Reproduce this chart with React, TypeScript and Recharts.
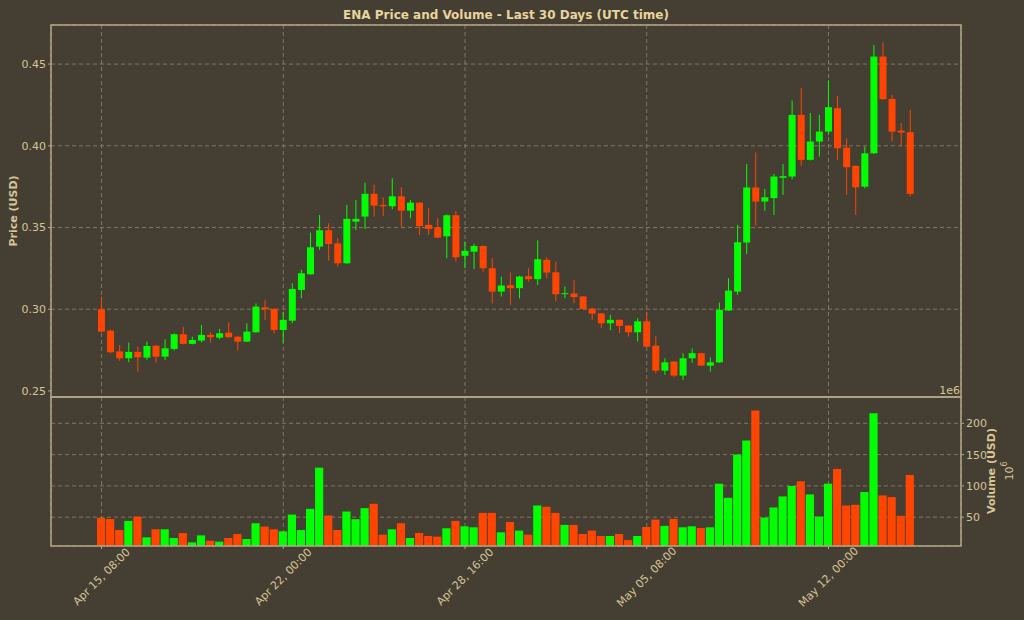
import { ComposedChart, Bar, XAxis, YAxis, CartesianGrid, Cell } from "recharts";

// 8h candles, Apr 15 08:00 -> May 15 00:00 (UTC)
const opens = [
  0.3, 0.2869, 0.2742, 0.27, 0.2739, 0.2704, 0.2777, 0.271, 0.2757, 0.2847,
  0.2788, 0.2808, 0.2843, 0.2826, 0.2857, 0.2832, 0.2802, 0.2859, 0.3012, 0.3002,
  0.2873, 0.293, 0.3118, 0.3214, 0.3383, 0.3483, 0.3403, 0.3281, 0.3536, 0.3567,
  0.3706, 0.3638, 0.363, 0.3691, 0.3603, 0.3652, 0.3516, 0.35, 0.3446, 0.3575,
  0.3327, 0.3352, 0.3387, 0.3251, 0.3108, 0.3147, 0.3129, 0.3202, 0.3184, 0.3302,
  0.3226, 0.3092, 0.3096, 0.3078, 0.3004, 0.2975, 0.2914, 0.2935, 0.29, 0.2859,
  0.2926, 0.2777, 0.2624, 0.268, 0.2594, 0.27, 0.2731, 0.2655, 0.2675, 0.2992,
  0.3108, 0.3408, 0.3745, 0.3659, 0.368, 0.3804, 0.3812, 0.4189, 0.3914, 0.4026,
  0.4087, 0.423, 0.3989, 0.3877, 0.375, 0.3954, 0.4546, 0.4287, 0.4093, 0.4083,
];
const highs = [
  0.3077, 0.2875, 0.2782, 0.2796, 0.2771, 0.2802, 0.278, 0.2816, 0.2853, 0.2893,
  0.2832, 0.2904, 0.2859, 0.2879, 0.292, 0.2835, 0.2914, 0.3036, 0.3057, 0.3005,
  0.2985, 0.3159, 0.3241, 0.3469, 0.3577, 0.3526, 0.3434, 0.3638, 0.3669, 0.3775,
  0.3761, 0.3685, 0.3801, 0.3747, 0.3669, 0.3655, 0.3618, 0.3557, 0.358, 0.36,
  0.3414, 0.34, 0.339, 0.3312, 0.32, 0.3224, 0.3205, 0.3251, 0.3421, 0.3318,
  0.3291, 0.3139, 0.3179, 0.308, 0.3006, 0.2977, 0.2965, 0.2938, 0.2903, 0.2945,
  0.2985, 0.2837, 0.27, 0.2683, 0.2731, 0.2761, 0.2734, 0.2706, 0.3041, 0.319,
  0.3516, 0.3889, 0.3959, 0.3736, 0.3828, 0.3889, 0.4277, 0.4352, 0.42, 0.4189,
  0.44, 0.4305, 0.4046, 0.388, 0.3995, 0.4618, 0.4633, 0.4312, 0.4138, 0.422,
];
const lows = [
  0.286, 0.273, 0.2684, 0.2676, 0.2618, 0.269, 0.2673, 0.269, 0.2747, 0.2785,
  0.2785, 0.2798, 0.2796, 0.2816, 0.2826, 0.2747, 0.28, 0.2856, 0.2935, 0.2853,
  0.2794, 0.2915, 0.3068, 0.321, 0.3363, 0.3297, 0.3261, 0.3278, 0.3485, 0.3489,
  0.3567, 0.3571, 0.3612, 0.3506, 0.3557, 0.3455, 0.3455, 0.3435, 0.3312, 0.3291,
  0.3251, 0.3245, 0.323, 0.3036, 0.3078, 0.3026, 0.3067, 0.3169, 0.3148, 0.319,
  0.3047, 0.3067, 0.3036, 0.2996, 0.2935, 0.2884, 0.2873, 0.2853, 0.2832, 0.2802,
  0.2768, 0.2608, 0.2598, 0.2584, 0.2567, 0.2673, 0.2652, 0.2618, 0.2672, 0.299,
  0.3088, 0.3337, 0.351, 0.3603, 0.3577, 0.37, 0.3795, 0.3877, 0.391, 0.3934,
  0.4067, 0.3914, 0.37, 0.3577, 0.374, 0.395, 0.4283, 0.4026, 0.3995, 0.369,
];
const closes = [
  0.2863, 0.2737, 0.27, 0.2739, 0.2706, 0.2775, 0.271, 0.2761, 0.2847, 0.2788,
  0.2812, 0.2843, 0.2829, 0.2853, 0.2829, 0.2802, 0.2863, 0.3016, 0.3, 0.2873,
  0.2935, 0.3124, 0.322, 0.3379, 0.3483, 0.3399, 0.3281, 0.3553, 0.3553, 0.3706,
  0.3634, 0.363, 0.3691, 0.3603, 0.3652, 0.3509, 0.3491, 0.3438, 0.3575, 0.3318,
  0.3357, 0.3387, 0.3251, 0.3108, 0.3145, 0.3129, 0.32, 0.3184, 0.3306, 0.3224,
  0.3092, 0.3098, 0.3075, 0.3002, 0.2973, 0.2914, 0.2935, 0.2898, 0.2859, 0.2926,
  0.2771, 0.2624, 0.2675, 0.2594, 0.27, 0.2731, 0.2655, 0.2675, 0.2996, 0.3114,
  0.341, 0.3745, 0.3659, 0.3685, 0.3812, 0.3814, 0.4189, 0.3914, 0.4026, 0.4087,
  0.4236, 0.3985, 0.3869, 0.3746, 0.3954, 0.4546, 0.4285, 0.4087, 0.4081, 0.3706,
];
// volume in millions of USD
const volumes = [
  48.9, 47.3, 29.6, 44.1, 51, 17.9, 30.7, 30.7, 16.8, 24.8,
  9.8, 21, 12.5, 10.9, 16.8, 23.2, 15.2, 40.3, 35, 30.7,
  27.5, 54.2, 29.6, 63.4, 129.2, 52.7, 29.6, 59.1, 46.8, 64.5,
  71.4, 22.1, 30.7, 40.3, 16.8, 24.8, 20, 18.9, 32.3, 44.1,
  35.5, 33.9, 56.9, 56.9, 25.9, 42.5, 28.6, 22.1, 68.7, 66.6,
  56.9, 37.7, 37.7, 23.2, 28.6, 20, 20, 23.2, 13.5, 20,
  34.4, 46.2, 36.1, 47.3, 33.9, 35.5, 32.8, 33.9, 103.5, 81,
  150.1, 172.6, 220.3, 49.4, 65.5, 83.2, 99.8, 107.3, 86.4, 51,
  103.5, 127.1, 68.7, 69.8, 90.2, 216, 84.8, 82.1, 52.1, 117.5,
];

const xTicks = [0, 20, 40, 60, 80];
const xTickLabels = ["Apr 15, 08:00", "Apr 22, 00:00", "Apr 28, 16:00", "May 05, 08:00", "May 12, 00:00"];
const priceTicks = [0.25, 0.3, 0.35, 0.4, 0.45];
const volumeTicks = [50, 100, 150, 200];

const BG = "#453e33";
const GREEN = "#00ff00";
const RED = "#ff4500";
const TEXT = "#d6c595";
const TITLE = "#e8d49c";
const FRAME = "#b5a789";
const GRID = "#8f856f";
const FONT = "DejaVu Sans, sans-serif";

const rows = opens.map((o, i) => ({
  idx: i,
  open: o,
  high: highs[i],
  low: lows[i],
  close: closes[i],
  range: [lows[i], highs[i]],
  volume: volumes[i],
  up: closes[i] >= o,
}));

const xDomain = [-5.56, 94.58];

function Candle(props: any) {
  const { x, y, width, height, payload } = props;
  if (x == null || y == null || !payload) return null;
  const top = Math.min(y, y + height);
  const h = Math.abs(height);
  const span = payload.high - payload.low;
  const ppu = span > 0 ? h / span : 0;
  const bodyTop = top + (payload.high - Math.max(payload.open, payload.close)) * ppu;
  const bodyH = Math.max(1, Math.abs(payload.close - payload.open) * ppu);
  const color = payload.up ? GREEN : RED;
  const cx = x + width / 2;
  return (
    <g>
      <line x1={cx} x2={cx} y1={top} y2={top + h} stroke={color} strokeWidth={1} />
      <rect x={x} y={bodyTop} width={width} height={bodyH} fill={color} />
    </g>
  );
}

function DateTick(props: any) {
  const { x, y, payload } = props;
  const label = xTickLabels[xTicks.indexOf(payload.value)];
  return (
    <text
      transform={`translate(${x},${y + 26}) rotate(-45)`}
      textAnchor="middle"
      dominantBaseline="central"
      fill={TEXT}
      fontSize={11}
      fontFamily={FONT}
    >
      {label}
    </text>
  );
}

export default function App() {
  return (
    <div style={{ position: "absolute", left: 0, top: 0, width: 1024, height: 620, background: BG, overflow: "hidden" }}>
      <div style={{ position: "absolute", left: 0, top: 0 }}>
        <ComposedChart width={1024} height={398} data={rows} margin={{ top: 25, right: 63, bottom: 1, left: 0 }}>
          <CartesianGrid stroke={GRID} strokeDasharray="4 3" strokeWidth={0.8} />
          <XAxis dataKey="idx" type="number" domain={xDomain} ticks={xTicks} allowDataOverflow hide />
          <YAxis
            type="number"
            domain={[0.2463, 0.4739]}
            ticks={priceTicks}
            allowDataOverflow
            width={51}
            tickFormatter={(v: number) => v.toFixed(2)}
            tick={{ fill: TEXT, fontSize: 11, fontFamily: FONT }}
            tickLine={{ stroke: FRAME }}
            tickSize={3}
            tickMargin={2}
            axisLine={false}
          />
          <Bar dataKey="range" barSize={7} shape={Candle} isAnimationActive={false} />
        </ComposedChart>
      </div>
      <div style={{ position: "absolute", left: 0, top: 397 }}>
        <ComposedChart width={1024} height={223} data={rows} margin={{ top: 0, right: 0, bottom: 0, left: 51 }}>
          <CartesianGrid stroke={GRID} strokeDasharray="4 3" strokeWidth={0.8} />
          <XAxis
            dataKey="idx"
            type="number"
            domain={xDomain}
            ticks={xTicks}
            allowDataOverflow
            height={74}
            tick={<DateTick />}
            tickLine={{ stroke: FRAME }}
            tickSize={3}
            tickMargin={2}
            axisLine={false}
          />
          <YAxis
            orientation="right"
            type="number"
            domain={[4, 242]}
            ticks={volumeTicks}
            allowDataOverflow
            width={63}
            tick={{ fill: TEXT, fontSize: 11, fontFamily: FONT }}
            tickLine={{ stroke: FRAME }}
            tickSize={3}
            tickMargin={2}
            axisLine={false}
          />
          <Bar dataKey="volume" barSize={9.1} isAnimationActive={false}>
            {rows.map((r, i) => (
              <Cell key={`v-${i}`} fill={r.up ? GREEN : RED} />
            ))}
          </Bar>
        </ComposedChart>
      </div>
      <svg width={1024} height={620} style={{ position: "absolute", left: 0, top: 0, pointerEvents: "none" }}>
        <rect x={51} y={25} width={910} height={372} fill="none" stroke={FRAME} strokeWidth={1.5} />
        <rect x={51} y={397} width={910} height={149} fill="none" stroke={FRAME} strokeWidth={1.5} />
        <text x={506} y={15} textAnchor="middle" dominantBaseline="central" fill={TITLE} fontSize={12} fontWeight="bold" fontFamily={FONT}>
          ENA Price and Volume - Last 30 Days (UTC time)
        </text>
        <text
          transform="translate(13,211) rotate(-90)"
          textAnchor="middle"
          dominantBaseline="central"
          fill={TEXT}
          fontSize={11}
          fontWeight="bold"
          fontFamily={FONT}
        >
          Price (USD)
        </text>
        <text
          transform="translate(991,471) rotate(-90)"
          textAnchor="middle"
          dominantBaseline="central"
          fill={TEXT}
          fontSize={11}
          fontWeight="bold"
          fontFamily={FONT}
        >
          Volume (USD)
        </text>
        <text
          transform="translate(1009,471) rotate(-90)"
          textAnchor="middle"
          dominantBaseline="central"
          fill={TEXT}
          fontSize={11}
          fontFamily={FONT}
        >
          10<tspan fontSize={8} dy={-5}>6</tspan>
        </text>
        <text x={960} y={390} textAnchor="end" dominantBaseline="central" fill={TEXT} fontSize={11} fontFamily={FONT}>
          1e6
        </text>
      </svg>
    </div>
  );
}
